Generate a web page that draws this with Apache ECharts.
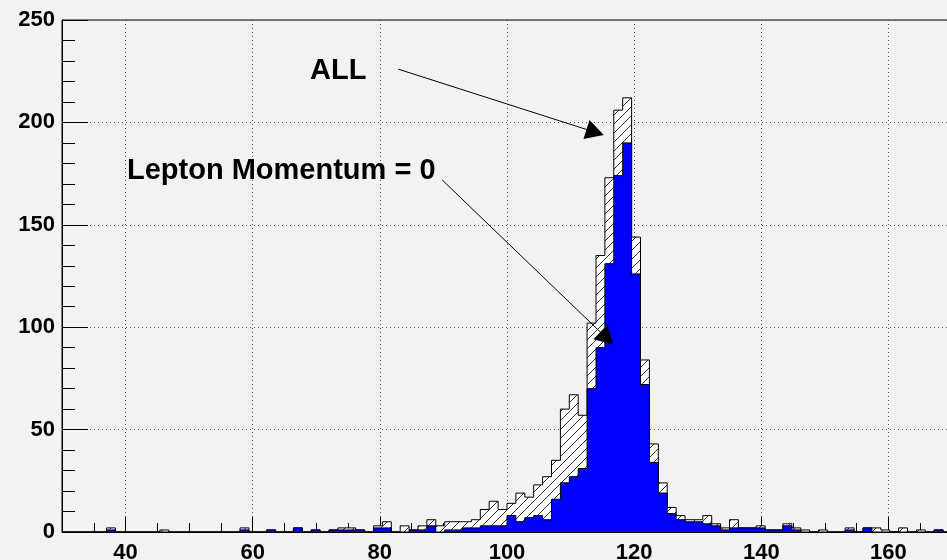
<!DOCTYPE html>
<html>
<head>
<meta charset="utf-8">
<style>
html,body{margin:0;padding:0;background:#f2f2f2;}
#chart{width:947px;height:560px;}
</style>
<script src="https://cdn.jsdelivr.net/npm/echarts@6/dist/echarts.min.js"></script>
</head>
<body>
<div id="chart"></div>
<script>
// Histogram binning: 100 bins from 30 to 170
var xMin = 30;
var xMax = 170;
var binWidth = 1.4;

// "ALL" counts per bin
var allCounts = [
  0,0,0,0,0,2,0,0,0,0,
  0,1,0,0,0,0,0,0,0,0,
  2,0,0,1,0,0,2,0,1,0,
  1,2,2,1,0,3,5,0,3,1,
  3,6,3,5,5,5,6,11,15,11,
  14,19,17,23,27,35,60,67,57,102,
  135,173,206,212,144,84,43,24,12,8,
  6,6,8,4,2,6,2,2,3,1,
  1,4,2,1,0,1,0,0,2,0,
  2,2,1,0,2,0,1,0,1,0
];
// "Lepton Momentum = 0" counts per bin
var leptonZeroCounts = [
  0,0,0,0,0,1,0,0,0,0,
  0,0,0,0,0,0,0,0,0,0,
  1,0,0,1,0,0,2,0,1,0,
  1,1,1,1,0,2,2,0,0,1,
  1,3,0,1,1,2,2,3,3,3,
  8,5,7,8,6,16,24,27,31,70,
  90,131,174,190,126,72,34,19,9,6,
  5,5,4,3,1,2,2,2,2,1,
  1,3,1,0,0,0,0,0,1,0,
  2,0,0,0,0,0,0,0,1,0
];
var xTickLabels = [40, 60, 80, 100, 120, 140, 160];
var yTickLabels = [0, 50, 100, 150, 200, 250];

function stepData(counts) {
  var d = [];
  for (var i = 0; i < counts.length; i++) {
    d.push([+(xMin + i * binWidth).toFixed(4), counts[i]]);
  }
  d.push([xMax, counts[counts.length - 1]]);
  return d;
}

// hatch pattern
var s = 9;
var hc = document.createElement('canvas');
hc.width = s; hc.height = s;
var g = hc.getContext('2d');
g.fillStyle = '#ffffff';
g.fillRect(0, 0, s, s);
g.strokeStyle = '#333333';
g.lineWidth = 1;
for (var k = -1; k <= 1; k++) {
  g.beginPath();
  g.moveTo(k * s, s);
  g.lineTo(k * s + s, 0);
  g.stroke();
}

var labelFont = {fontFamily: '"Liberation Sans", Arial, sans-serif', fontWeight: 'bold', fontSize: 22, color: '#000'};
var gridLine = {show: true, lineStyle: {color: '#555', type: [1, 3], width: 1}};

var chart = echarts.init(document.getElementById('chart'), null, {renderer: 'canvas'});
chart.setOption({
  animation: false,
  backgroundColor: '#f2f2f2',
  grid: {left: 62, top: 20, right: -5, bottom: 28, containLabel: false, outerBoundsMode: 'none',
         show: true, borderColor: '#000', borderWidth: 1, backgroundColor: 'transparent'},
  xAxis: [{
    type: 'value', min: xMin, max: xMax, splitNumber: 7, minInterval: 20, maxInterval: 20,
    axisLine: {show: true, onZero: false, lineStyle: {color: '#000', width: 1}},
    axisTick: {show: true, inside: true, length: 15, lineStyle: {color: '#000'}},
    axisLabel: Object.assign({margin: 10, showMinLabel: false, showMaxLabel: false,
      formatter: function (v) { return xTickLabels.indexOf(v) >= 0 ? String(v) : ''; }}, labelFont),
    splitLine: gridLine
  }, {
    type: 'value', min: xMin, max: xMax, interval: 5, position: 'bottom',
    axisLine: {show: false},
    axisTick: {show: true, inside: true, length: 9, lineStyle: {color: '#000'}},
    axisLabel: {show: false},
    splitLine: {show: false}
  }],
  yAxis: {
    type: 'value', min: 0, max: 250, interval: 50,
    axisLine: {show: true, lineStyle: {color: '#000', width: 1}},
    axisTick: {show: true, inside: true, length: 26, lineStyle: {color: '#000'}},
    minorTick: {show: true, splitNumber: 5, length: 13, lineStyle: {color: '#000'}},
    axisLabel: Object.assign({margin: 7,
      formatter: function (v) { return yTickLabels.indexOf(v) >= 0 ? String(v) : ''; }}, labelFont),
    splitLine: gridLine
  },
  series: [{
    name: 'ALL', type: 'line', step: 'end', xAxisIndex: 0, symbol: 'none', z: 2,
    data: stepData(allCounts),
    lineStyle: {color: '#000', width: 1},
    areaStyle: {color: {image: hc, repeat: 'repeat'}, opacity: 1},
    markLine: {
      silent: true, symbol: ['none', 'triangle'], symbolSize: [20, 18],
      label: {show: false},
      lineStyle: {color: '#000', width: 1, type: 'solid'},
      itemStyle: {color: '#000'},
      data: [
        [{coord: [82.9, 226]}, {coord: [113.86, 195.2]}],
        [{coord: [89.8, 171.9]}, {coord: [115.7, 94.6]}]
      ]
    }
  }, {
    name: 'Lepton Momentum = 0', type: 'line', step: 'end', xAxisIndex: 0, symbol: 'none', z: 3,
    data: stepData(leptonZeroCounts),
    lineStyle: {color: '#000', width: 1},
    areaStyle: {color: '#0000ff', opacity: 1}
  }],
  graphic: [{
    type: 'text', left: 310, top: 56, z: 10,
    style: {text: 'ALL', font: 'bold 29px "Liberation Sans", Arial, sans-serif', fill: '#000'}
  }, {
    type: 'text', left: 127, top: 156, z: 10,
    style: {text: 'Lepton Momentum = 0', font: 'bold 29px "Liberation Sans", Arial, sans-serif', fill: '#000'}
  }]
});
</script>
</body>
</html>
